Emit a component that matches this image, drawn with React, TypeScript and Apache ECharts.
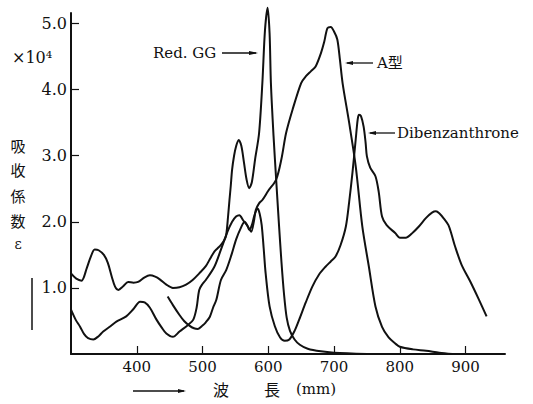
import { useEffect, useRef } from 'react';
import * as echarts from 'echarts';

const xTicks = [400, 500, 600, 700, 800, 900];
const yTicks = [1, 2, 3, 4, 5];

const redGG: [number, number][] = [
  [300, 1.22], [308, 1.14], [316, 1.11], [324, 1.3], [330, 1.47], [336, 1.58], [342, 1.57],
  [350, 1.5], [356, 1.38], [362, 1.17], [367, 1.02], [372, 0.97], [379, 1.02], [387, 1.09],
  [395, 1.08], [402, 1.09], [412, 1.16], [420, 1.19], [428, 1.17], [435, 1.13], [445, 1.05],
  [455, 1.0], [465, 1.01], [475, 1.05], [485, 1.12], [495, 1.22], [505, 1.33], [512, 1.45],
  [518, 1.55], [523, 1.6], [528, 1.65], [533, 1.72], [536, 1.8], [539, 2.1], [541, 2.33],
  [543, 2.55], [545, 2.79], [548, 3.0], [551, 3.14], [555, 3.24], [559, 3.15], [563, 2.9],
  [567, 2.64], [571, 2.51], [575, 2.6], [580, 2.95], [586, 3.34], [591, 4.1], [595, 4.9],
  [599, 5.24], [602, 4.85], [604, 4.1], [608, 3.3], [612, 2.64], [616, 2.0], [620, 1.4],
  [624, 0.9], [628, 0.55], [633, 0.35], [640, 0.22], [648, 0.14], [660, 0.08], [680, 0.04],
  [700, 0.02], [750, 0.0],
];

const typeA: [number, number][] = [
  [300, 0.67], [307, 0.52], [314, 0.41], [320, 0.3], [326, 0.24], [334, 0.22], [342, 0.27],
  [349, 0.34], [360, 0.42], [369, 0.49], [384, 0.57], [395, 0.68], [405, 0.79], [412, 0.78],
  [420, 0.7], [430, 0.52], [438, 0.4], [445, 0.31], [455, 0.26], [465, 0.34], [478, 0.44],
  [486, 0.52], [491, 0.7], [495, 0.97], [500, 1.06], [505, 1.12], [518, 1.32], [528, 1.58],
  [538, 1.85], [545, 2.0], [551, 2.08], [556, 2.1], [562, 2.02], [569, 1.93], [574, 1.85],
  [578, 2.0], [581, 2.18], [586, 2.28], [591, 2.33], [600, 2.47], [612, 2.64], [620, 2.95],
  [627, 3.34], [637, 3.7], [650, 4.1], [657, 4.2], [665, 4.28], [672, 4.35], [680, 4.55],
  [685, 4.72], [690, 4.93], [695, 4.95], [700, 4.88], [705, 4.76], [709, 4.45], [713, 4.1],
  [723, 3.5], [733, 2.84], [743, 1.93], [753, 1.32], [763, 0.72], [773, 0.41], [783, 0.25],
  [793, 0.16], [800, 0.11], [820, 0.07], [840, 0.05], [860, 0.02], [880, 0.0],
];

const dibenzanthrone: [number, number][] = [
  [447, 0.87], [455, 0.74], [465, 0.59], [472, 0.5], [480, 0.43], [487, 0.39], [493, 0.38],
  [500, 0.43], [505, 0.48], [511, 0.56], [516, 0.7], [521, 0.82], [528, 1.12], [536, 1.27],
  [544, 1.5], [551, 1.73], [558, 1.9], [564, 2.0], [568, 1.95], [571, 1.88], [575, 1.95],
  [579, 2.1], [584, 2.2], [587, 2.12], [590, 1.95], [593, 1.6], [596, 1.22], [602, 0.72],
  [610, 0.42], [618, 0.25], [625, 0.2], [632, 0.22], [640, 0.35], [647, 0.52], [657, 0.78],
  [667, 1.02], [677, 1.2], [687, 1.32], [695, 1.4], [702, 1.47], [710, 1.65], [718, 1.93],
  [723, 2.3], [728, 2.74], [733, 3.25], [736, 3.55], [738, 3.62], [741, 3.6], [745, 3.44],
  [748, 3.2], [750, 2.99], [755, 2.82], [763, 2.69], [768, 2.45], [773, 2.08], [780, 1.95],
  [793, 1.83], [800, 1.76], [809, 1.76], [820, 1.84], [829, 1.93], [840, 2.06], [849, 2.14],
  [855, 2.16], [860, 2.13], [867, 2.05], [874, 1.95], [879, 1.8], [884, 1.63], [894, 1.35],
  [907, 1.1], [920, 0.83], [932, 0.57],
];

const seriesNames = ['Red. GG', 'A型', 'Dibenzanthrone'];
const yNameChars = ['吸', '收', '係', '数', 'ε'];

const SERIF = 'DejaVu Serif';
const CJK = 'Noto Sans CJK JP';
const INK = '#111';

export default function App() {
  const ref = useRef<HTMLDivElement>(null);
  useEffect(() => {
    const chart = echarts.init(ref.current!, null, { renderer: 'svg' });
    const lineSeries = (name: string, data: [number, number][]) => ({
      name,
      type: 'line',
      data,
      smooth: 0.3,
      showSymbol: false,
      symbol: 'none',
      clip: false,
      lineStyle: { color: INK, width: 2 },
      silent: true,
    });
    const charYs = [145, 169, 195, 220, 244];
    chart.setOption({
      animation: false,
      backgroundColor: '#fff',
      grid: { left: 71, right: 28, top: 13, bottom: 50 },
      xAxis: {
        type: 'value',
        min: 300,
        max: 960,
        interval: 100,
        axisLine: { show: true, lineStyle: { color: INK, width: 2 } },
        axisTick: { show: true, inside: true, length: 8, customValues: xTicks, lineStyle: { color: INK, width: 1.2 } },
        axisLabel: {
          customValues: xTicks,
          color: INK,
          fontFamily: SERIF,
          fontSize: 15,
          margin: 5,
          formatter: (v: number) => (xTicks.includes(v) ? String(v) : ''),
        },
        splitLine: { show: false },
      },
      yAxis: {
        type: 'value',
        min: 0,
        max: 5.16,
        interval: 1,
        axisLine: { show: true, lineStyle: { color: INK, width: 2 } },
        axisTick: { show: true, inside: true, length: 8, customValues: yTicks, lineStyle: { color: INK, width: 1.2 } },
        axisLabel: {
          customValues: yTicks,
          color: INK,
          fontFamily: SERIF,
          fontSize: 16,
          margin: 4,
          formatter: (v: number) => (yTicks.includes(v) ? v.toFixed(1) : ''),
        },
        splitLine: { show: false },
      },
      series: [
        lineSeries(seriesNames[0], redGG),
        lineSeries(seriesNames[1], typeA),
        lineSeries(seriesNames[2], dibenzanthrone),
      ],
      graphic: [
        { type: 'text', left: 12, top: 49, style: { text: '×10⁴', font: `16px "${SERIF}"`, fill: INK } },
        ...yNameChars.map((c, i) => ({
          type: 'text',
          x: 18,
          y: charYs[i],
          style: {
            text: c,
            font: i === 4 ? `14px "${SERIF}"` : `15px "${CJK}"`,
            fill: INK,
            align: 'center',
            verticalAlign: 'middle',
          },
        })),
        { type: 'line', shape: { x1: 32, y1: 278, x2: 32, y2: 330 }, style: { stroke: INK, lineWidth: 1.5 } },
        // x axis name
        { type: 'line', shape: { x1: 133, y1: 391, x2: 184, y2: 391 }, style: { stroke: INK, lineWidth: 1.5 } },
        { type: 'polygon', shape: { points: [[186, 391], [178, 389], [178, 393]] }, style: { fill: INK } },
        { type: 'text', x: 221, y: 389, style: { text: '波', font: `16px "${CJK}"`, fill: INK, align: 'center', verticalAlign: 'middle' } },
        { type: 'text', x: 272, y: 389, style: { text: '長', font: `16px "${CJK}"`, fill: INK, align: 'center', verticalAlign: 'middle' } },
        { type: 'text', x: 316, y: 389, style: { text: '(mm)', font: `15px "${SERIF}"`, fill: INK, align: 'center', verticalAlign: 'middle' } },
        // labels
        { type: 'text', x: 153, y: 53, style: { text: seriesNames[0], font: `15px "${SERIF}"`, fill: INK, align: 'left', verticalAlign: 'middle' } },
        { type: 'line', shape: { x1: 222, y1: 53, x2: 256, y2: 53 }, style: { stroke: INK, lineWidth: 1.3 } },
        { type: 'polygon', shape: { points: [[258, 53], [249, 51], [249, 55]] }, style: { fill: INK } },
        { type: 'line', shape: { x1: 347, y1: 63, x2: 373, y2: 63 }, style: { stroke: INK, lineWidth: 1.3 } },
        { type: 'polygon', shape: { points: [[345, 63], [353, 61], [353, 65]] }, style: { fill: INK } },
        { type: 'text', x: 377, y: 63, style: { text: seriesNames[1], font: `15px "${SERIF}", "${CJK}"`, fill: INK, align: 'left', verticalAlign: 'middle' } },
        { type: 'line', shape: { x1: 370, y1: 133, x2: 395, y2: 133 }, style: { stroke: INK, lineWidth: 1.3 } },
        { type: 'polygon', shape: { points: [[368, 133], [376, 131], [376, 135]] }, style: { fill: INK } },
        { type: 'text', x: 397, y: 133, style: { text: seriesNames[2], font: `15px "${SERIF}"`, fill: INK, align: 'left', verticalAlign: 'middle' } },
      ],
    });
    return () => chart.dispose();
  }, []);
  return <div ref={ref} style={{ position: 'fixed', left: 0, top: 0, width: 533, height: 404 }} />;
}
